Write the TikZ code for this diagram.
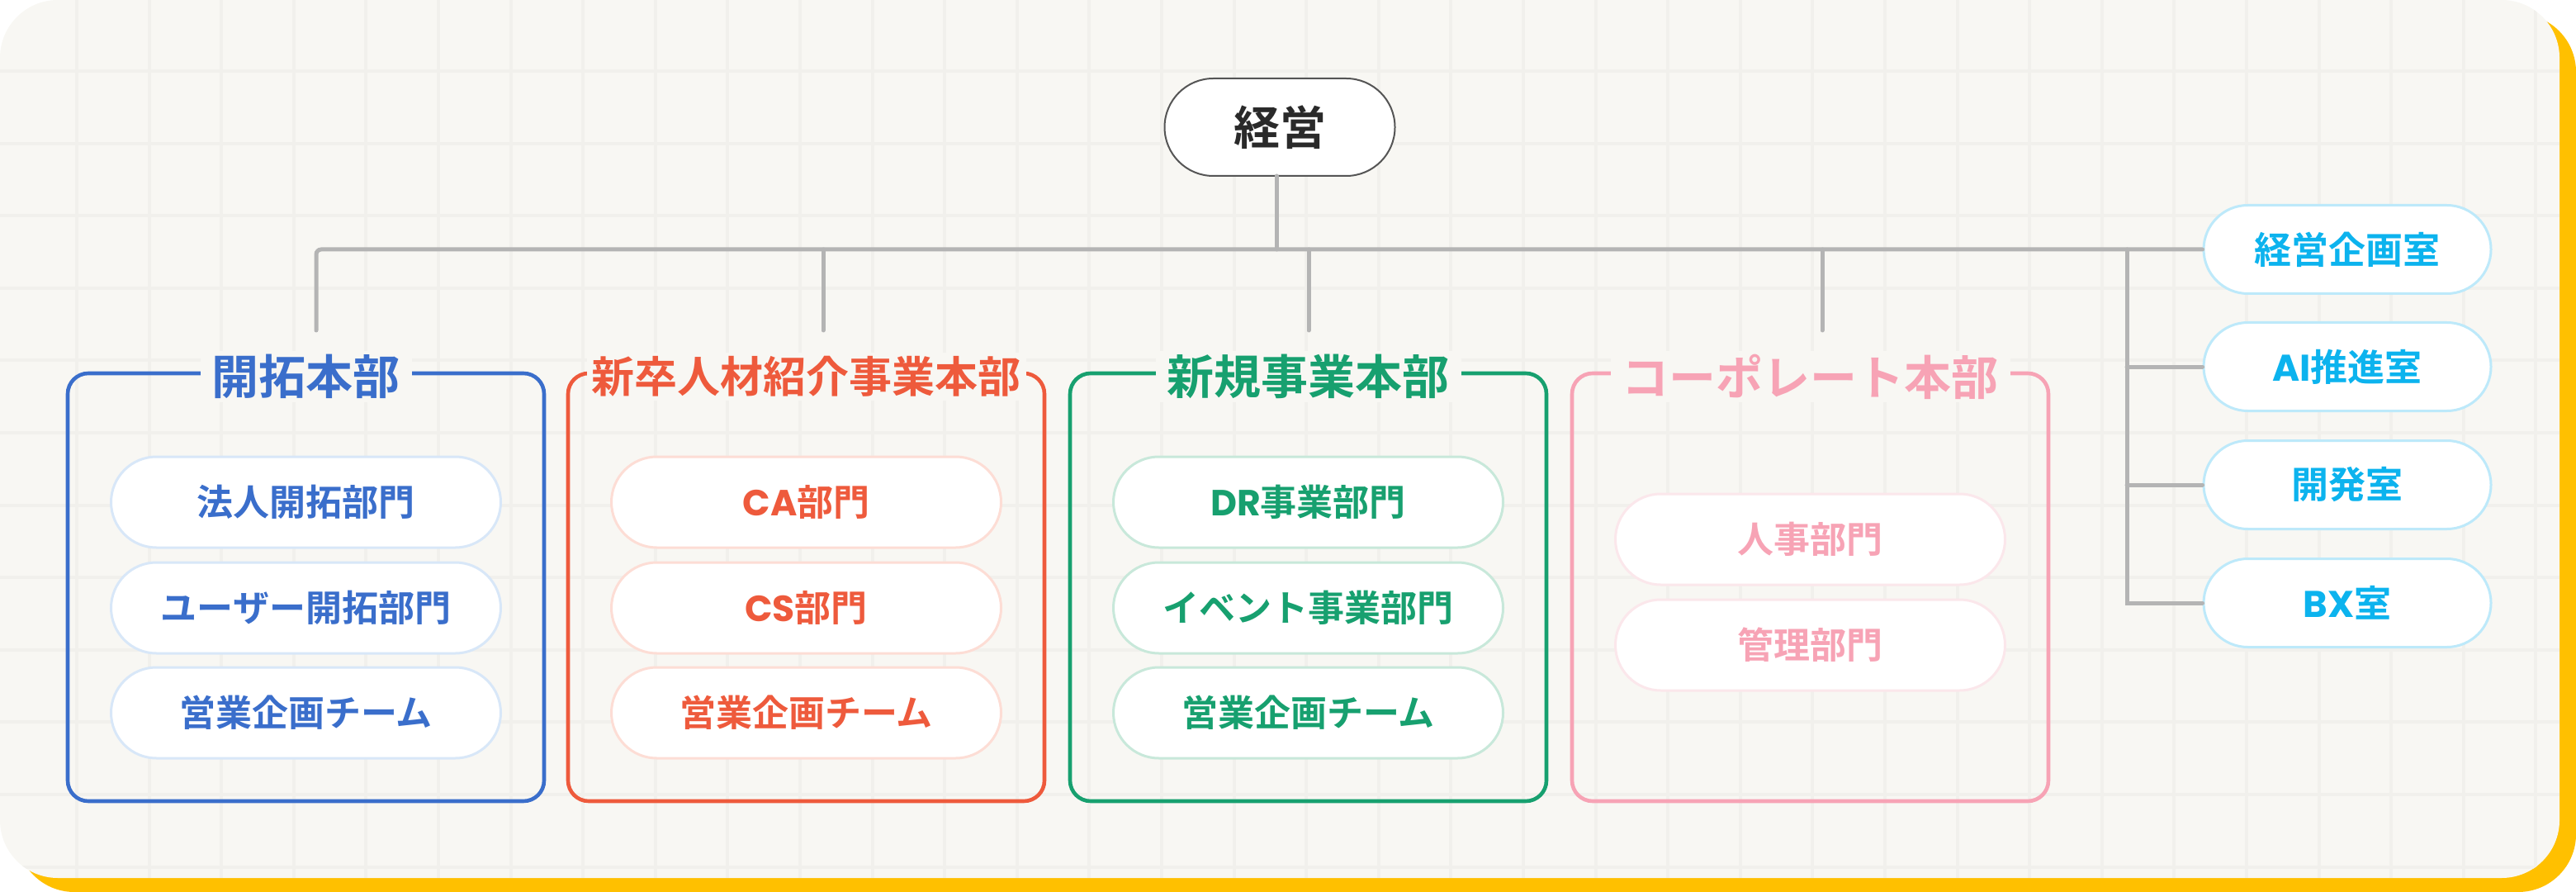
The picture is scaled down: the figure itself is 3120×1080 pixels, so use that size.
\documentclass[tikz,border=0pt]{standalone}
\usepackage{fontspec}
\setmainfont{Noto Sans CJK JP}[BoldFont={* Bold}]
\newfontfamily\latf{Poppins}
\definecolor{cardc}{HTML}{F8F7F3}
\definecolor{gridc}{HTML}{F1F0EC}
\definecolor{yellowc}{HTML}{FFC000}
\definecolor{linec}{HTML}{B4B4B4}
\definecolor{topline}{HTML}{555555}
\definecolor{toptext}{HTML}{2A2A2A}
\definecolor{blu}{HTML}{3A6ECB}
\definecolor{bluL}{HTML}{D8E7F8}
\definecolor{org}{HTML}{EE5A3C}
\definecolor{orgL}{HTML}{FDDDD5}
\definecolor{grn}{HTML}{17A06F}
\definecolor{grnL}{HTML}{C8E8DA}
\definecolor{pnk}{HTML}{F7A3B5}
\definecolor{pnkL}{HTML}{FBE7EB}
\definecolor{cyn}{HTML}{0CB3EE}
\definecolor{cynL}{HTML}{BDE9FA}
\begin{document}
\begin{tikzpicture}[x=0.5pt,y=-0.5pt,
  conn/.style={draw=linec, line width=2.5pt, line cap=round},
  topnode/.style={draw=topline, line width=1pt, fill=white, rounded corners=29.5pt,
    minimum width=139.5pt, minimum height=59pt, inner sep=0pt, text=toptext,
    font=\fontsize{28pt}{32pt}\selectfont\bfseries},
  deptbox/.style={draw=#1, line width=2.3pt, rounded corners=12.5pt,
    minimum width=288.5pt, minimum height=259pt, inner sep=0pt},
  depttitle/.style={fill=cardc, text=#1, inner xsep=7pt, inner ysep=2pt,
    font=\fontsize{28.5pt}{32pt}\selectfont\bfseries},
  unitpill/.style n args={2}{draw=#2, fill=white, line width=1.5pt, rounded corners=27.5pt,
    minimum width=236pt, minimum height=55pt, inner sep=0pt, text=#1,
    font=\fontsize{22pt}{26pt}\selectfont\bfseries},
  roompill/.style={draw=cynL, fill=white, line width=1.5pt, rounded corners=26.75pt,
    minimum width=174pt, minimum height=53.5pt, inner sep=0pt, text=cyn,
    font=\fontsize{22.5pt}{26pt}\selectfont\bfseries}
]
\useasboundingbox (0,0) rectangle (3120,1080);
% card with yellow shadow
\fill[yellowc, rounded corners=35pt] (20,17) rectangle (3120,1080);
\fill[cardc, rounded corners=35pt] (0,0) rectangle (3100,1063);
\begin{scope}
  \clip[rounded corners=35pt] (0,0) rectangle (3100,1063);
  \foreach \i in {0,...,34} \draw[gridc, line width=2pt] ({93+87.6*\i},0) -- ({93+87.6*\i},1063);
  \foreach \j in {0,...,11} \draw[gridc, line width=2pt] (0,{86+87.6*\j}) -- (3100,{86+87.6*\j});
\end{scope}

% top node
\node[topnode] (top) at (1550,154) {経営};

% right-side rooms
\node[roompill] (r1) at (2843,302) {経営企画室};
\node[roompill] (r2) at (2843,444) {{\latf AI}推進室};
\node[roompill] (r3) at (2843,587) {開発室};
\node[roompill] (r4) at (2843,730) {{\latf BX}室};

% department boxes
\node[deptbox=blu] (b1) at (370.5,711) {};
\node[deptbox=org] (b2) at (976.5,711) {};
\node[deptbox=grn] (b3) at (1584.5,711) {};
\node[deptbox=pnk] (b4) at (2192.5,711) {};

\node[depttitle=blu] (t1) at (370.5,456) {開拓本部};
\node[depttitle=org, inner xsep=3pt, font=\fontsize{26pt}{30pt}\selectfont\bfseries] (t2) at (976.5,456) {新卒人材紹介事業本部};
\node[depttitle=grn] (t3) at (1584.5,456) {新規事業本部};
\node[depttitle=pnk] (t4) at (2192.5,456) {コーポレート本部};

% units
\node[unitpill={blu}{bluL}] (u11) at (370.5,608) {法人開拓部門};
\node[unitpill={blu}{bluL}] (u12) at (370.5,736) {ユーザー開拓部門};
\node[unitpill={blu}{bluL}] (u13) at (370.5,863) {営業企画チーム};

\node[unitpill={org}{orgL}] (u21) at (976.5,608) {{\latf CA}部門};
\node[unitpill={org}{orgL}] (u22) at (976.5,736) {{\latf CS}部門};
\node[unitpill={org}{orgL}] (u23) at (976.5,863) {営業企画チーム};

\node[unitpill={grn}{grnL}] (u31) at (1584.5,608) {{\latf DR}事業部門};
\node[unitpill={grn}{grnL}] (u32) at (1584.5,736) {イベント事業部門};
\node[unitpill={grn}{grnL}] (u33) at (1584.5,863) {営業企画チーム};

\node[unitpill={pnk}{pnkL}] (u41) at (2192.5,653) {人事部門};
\node[unitpill={pnk}{pnkL}] (u42) at (2192.5,781) {管理部門};

% connectors
\coordinate (e1) at (383,400);
\coordinate (j2) at (997,302);  \coordinate (e2) at (997,400);
\coordinate (j3) at (1585,302); \coordinate (e3) at (1585,400);
\coordinate (j4) at (2207,302); \coordinate (e4) at (2207,400);
\coordinate (v)  at (2576,302);
\coordinate (ts) at (1546,213);

\draw[conn] (ts) -- (ts |- r1.west);
\draw[conn, rounded corners=3pt] (e1) |- (r1.west);
\draw[conn] (j2) -- (e2);
\draw[conn] (j3) -- (e3);
\draw[conn] (j4) -- (e4);
\draw[conn] (v) |- (r4.west);
\draw[conn] (v |- r2.west) -- (r2.west);
\draw[conn] (v |- r3.west) -- (r3.west);
\end{tikzpicture}
\end{document}
